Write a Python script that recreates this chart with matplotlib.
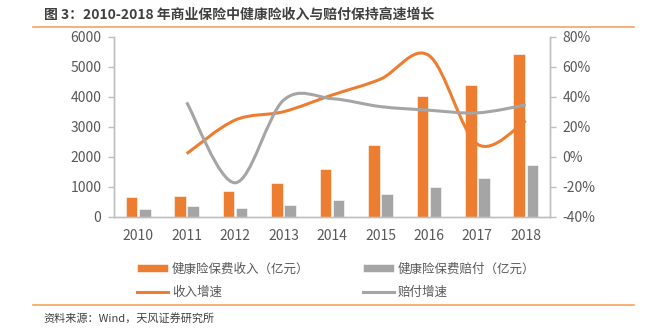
import numpy as np
import matplotlib
matplotlib.use("Agg")
import matplotlib.pyplot as plt
from matplotlib.path import Path
from matplotlib.patches import PathPatch
from matplotlib.lines import Line2D

plt.rcParams['font.family'] = ['Noto Sans CJK SC', 'DejaVu Sans']

# 数据
years = ['2010', '2011', '2012', '2013', '2014', '2015', '2016', '2017', '2018']
income = [677, 692, 862, 1123, 1587, 2410, 4042, 4389, 5448]      # 健康险保费收入（亿元）
payout = [264, 360, 298, 411, 571, 763, 1001, 1295, 1744]         # 健康险保费赔付（亿元）
income_growth = [2.2, 24.6, 30.2, 41.3, 51.9, 67.7, 8.6, 24.1]    # 收入增速 %, 2011-2018
payout_growth = [36.4, -17.2, 37.9, 38.9, 33.6, 31.2, 29.4, 34.7]  # 赔付增速 %, 2011-2018

ORANGE = '#ED7D31'
GRAY = '#A5A5A5'
TXT = '#595959'
AXC = '#BFBFBF'


def smooth_path(xs, ys):
    # 平滑曲线（类似 Excel 平滑线），用三次贝塞尔连接各点
    pts = np.column_stack([xs, ys]).astype(float)
    n = len(pts)
    verts = [pts[0]]
    codes = [Path.MOVETO]
    for i in range(n - 1):
        p0 = pts[i - 1] if i > 0 else pts[i]
        p1 = pts[i]
        p2 = pts[i + 1]
        p3 = pts[i + 2] if i + 2 < n else pts[i + 1]
        c1 = p1 + (p2 - p0) / 6.0
        c2 = p2 - (p3 - p1) / 6.0
        verts += [c1, c2, p2]
        codes += [Path.CURVE4] * 3
    return Path(verts, codes)


fig = plt.figure(figsize=(6.51, 3.28), dpi=100)
ax = fig.add_axes([114 / 651, 1 - 217 / 328, 436 / 651, 180 / 328])
ax2 = ax.twinx()

x = np.arange(len(years))
w = 0.24
b1 = ax.bar(x - 0.135, income, w, color=ORANGE, edgecolor='white', linewidth=0.4, zorder=2)
b2 = ax.bar(x + 0.135, payout, w, color=GRAY, edgecolor='white', linewidth=0.4, zorder=2)

ax.set_xlim(-0.5, len(years) - 0.5)
ax.set_ylim(0, 6000)
ax.set_yticks(range(0, 6001, 1000))
ax.set_xticks(x)
ax.set_xticklabels(years)

ax2.set_ylim(-40, 80)
ax2.set_yticks(range(-40, 81, 20))
ax2.set_yticklabels(['%d%%' % v for v in range(-40, 81, 20)])

gx = x[1:]
ax2.add_patch(PathPatch(smooth_path(gx, income_growth), facecolor='none',
                        edgecolor=ORANGE, linewidth=2.2, capstyle='butt'))
ax2.add_patch(PathPatch(smooth_path(gx, payout_growth), facecolor='none',
                        edgecolor=GRAY, linewidth=2.2, capstyle='butt'))

for a in (ax, ax2):
    a.spines['top'].set_visible(False)
    for s in ('left', 'right', 'bottom'):
        a.spines[s].set_color(AXC)
        a.spines[s].set_linewidth(1.0)
    a.tick_params(axis='y', colors=AXC, labelcolor=TXT, labelsize=10, length=4, width=1, pad=5)
ax.tick_params(axis='x', length=0, labelcolor=TXT, labelsize=10, pad=9)

# 图例
handles = [b1, Line2D([], [], color=ORANGE, lw=2.2), b2, Line2D([], [], color=GRAY, lw=2.2)]
labels = ['健康险保费收入（亿元）', '收入增速', '健康险保费赔付（亿元）', '赔付增速']
leg = fig.legend(handles, labels, ncol=2, loc='upper left', bbox_to_anchor=(128 / 651, 1 - 254 / 328),
                 frameon=False, fontsize=9, handlelength=2.5, handleheight=0.6,
                 handletextpad=0.3, columnspacing=4.3, labelspacing=0.8, borderpad=0.2)
for t in leg.get_texts():
    t.set_color(TXT)

# 标题与分隔线
fig.text(44 / 651, 1 - 15 / 328, '图 3：2010-2018 年商业保险中健康险收入与赔付保持高速增长',
         fontsize=10, fontweight='bold', color='#404040', va='center', ha='left')
fig.add_artist(Line2D([33 / 651, 634 / 651], [1 - 27 / 328] * 2, color='#F4A460', lw=1.2))
fig.add_artist(Line2D([33 / 651, 634 / 651], [1 - 305 / 328] * 2, color='#F4A460', lw=1.2))
fig.text(43 / 651, 1 - 318 / 328, '资料来源：Wind，天风证券研究所',
         fontsize=8, color='#404040', va='center', ha='left')

fig.savefig('out.png', dpi=100)
